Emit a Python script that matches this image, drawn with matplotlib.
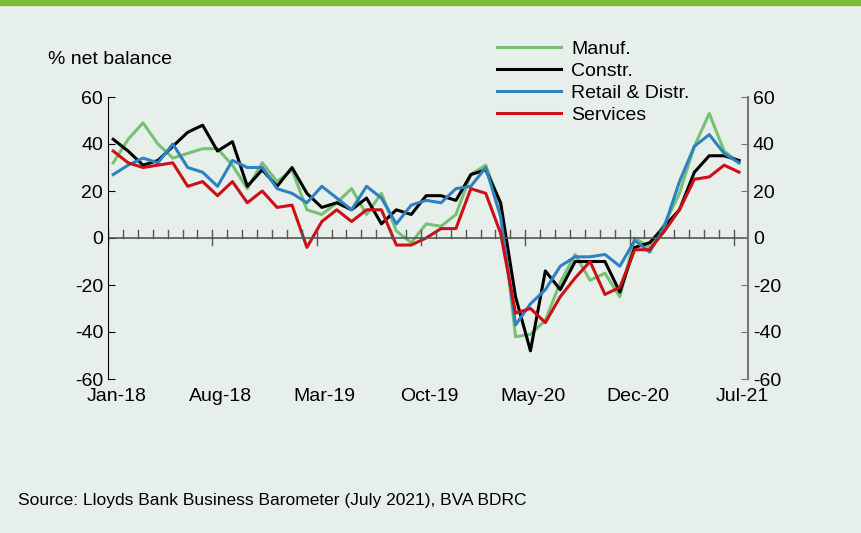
import matplotlib.pyplot as plt
import numpy as np

plt.rcParams['font.family'] = 'Liberation Sans'
plt.rcParams['axes.unicode_minus'] = False

months = ['Jan-18', 'Aug-18', 'Mar-19', 'Oct-19', 'May-20', 'Dec-20', 'Jul-21']
manuf = [32, 42, 49, 40, 34, 36, 38, 38, 31, 21, 32, 24, 29, 12, 10, 15, 21, 10, 19, 3, -2, 6,
         5, 10, 27, 31, 14, -42, -41, -35, -19, -7, -18, -15, -25, 0, -4, 6, 19, 39, 53, 37, 32]
constr = [42, 37, 31, 33, 39, 45, 48, 37, 41, 22, 29, 22, 30, 19, 13, 15, 12, 17, 6, 12, 10, 18,
          18, 16, 27, 29, 15, -25, -48, -14, -22, -10, -10, -10, -23, -4, -2, 5, 12, 28, 35, 35, 33]
retail = [27, 31, 34, 32, 40, 30, 28, 22, 33, 30, 30, 21, 19, 15, 22, 17, 12, 22, 17, 6, 14, 16,
          15, 21, 22, 30, 9, -37, -28, -22, -12, -8, -8, -7, -12, -1, -6, 5, 24, 39, 44, 36, 32]
services = [37, 32, 30, 31, 32, 22, 24, 18, 24, 15, 20, 13, 14, -4, 7, 12, 7, 12, 12, -3, -3, 0,
            4, 4, 21, 19, 2, -32, -30, -36, -25, -17, -10, -24, -21, -5, -5, 3, 12, 25, 26, 31, 28]

bg = '#e7efeb'
fig = plt.figure(figsize=(8.61, 5.33), dpi=100, facecolor=bg)
fig.add_artist(plt.Line2D([0, 1], [0.996, 0.996], color='#7dbb2f', lw=6))
ax = fig.add_axes([108 / 861, 1 - 379 / 533, 640 / 861, 282 / 533], facecolor=bg)

x = np.arange(len(manuf))
ax.plot(x, manuf, color='#77c074', lw=2.2, label='Manuf.')
ax.plot(x, constr, color='black', lw=2.2, label='Constr.')
ax.plot(x, retail, color='#2e82c0', lw=2.2, label='Retail & Distr.')
ax.plot(x, services, color='#cc1016', lw=2.2, label='Services')

ax.set_xlim(-0.35, 42.6)
ax.set_ylim(-60, 60)
ax.set_yticks(range(-60, 61, 20))
ax.tick_params(axis='y', labelsize=14, direction='in', length=5)
for s in ['top', 'bottom', 'right']:
    ax.spines[s].set_visible(False)
ax.set_xticks([])

# zero line with month ticks
ax.axhline(0, color='#555555', lw=1.2)
for i in range(43):
    ax.plot([i - 0.35, i - 0.35], [0, 3.5], color='#555555', lw=1)
    if i % 7 == 0:
        ax.plot([i - 0.35, i - 0.35], [0, -3], color='#555555', lw=1)
for i, m in enumerate(months):
    ax.text(i * 7 + 0.2, -64, m, ha='center', va='top', fontsize=14)

ax2 = ax.twinx()
ax2.set_ylim(-60, 60)
ax2.set_yticks(range(-60, 61, 20))
ax2.tick_params(axis='y', labelsize=14, direction='in', length=5, color='#777777')
for s in ['top', 'bottom', 'left']:
    ax2.spines[s].set_visible(False)
ax2.spines['right'].set_color('#777777')
ax2.spines['right'].set_linewidth(1.5)

fig.text(48 / 861, 1 - 60 / 533, '% net balance', fontsize=14, va='center')
ax.legend(loc='upper left', bbox_to_anchor=(0.593, 1.235), frameon=False, fontsize=14,
          handlelength=3.3, labelspacing=0.22, borderpad=0, handletextpad=0.5)
fig.text(18 / 861, 1 - 500 / 533, 'Source: Lloyds Bank Business Barometer (July 2021), BVA BDRC',
         fontsize=12.5, va='center')
fig.savefig('out.png', dpi=100, facecolor=bg)
